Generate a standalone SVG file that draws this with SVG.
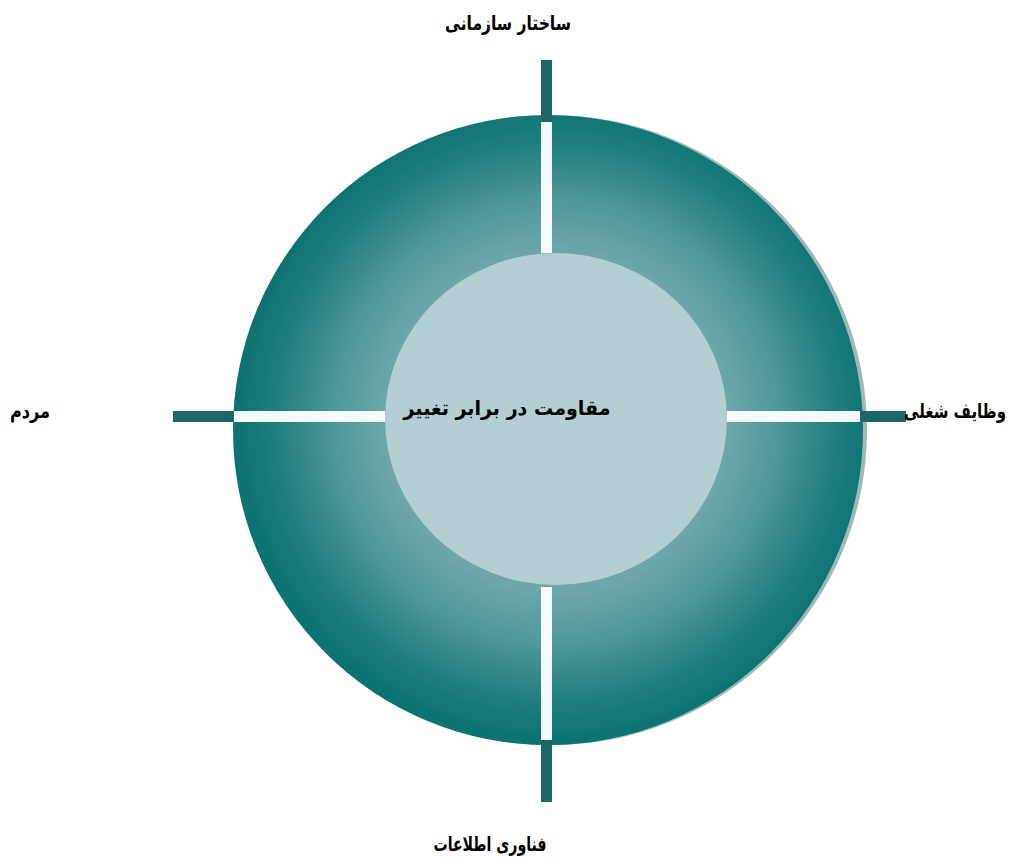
<svg xmlns="http://www.w3.org/2000/svg" width="1015" height="858" viewBox="0 0 1015 858">
<style>
.lbl{font-family:"DejaVu Sans","Noto Sans",sans-serif;font-weight:bold;font-size:20px;fill:#000;text-anchor:middle;direction:rtl}
.dark{fill:#1d6866}
.white{fill:#f4fbfd}
</style>
<defs>
<radialGradient id="ring" cx="556" cy="422" r="318" gradientUnits="userSpaceOnUse">
<stop offset="0.52" stop-color="#6fa8ab"/>
<stop offset="0.7" stop-color="#4f9799"/>
<stop offset="0.88" stop-color="#1f7e7c"/>
<stop offset="1" stop-color="#0c7371"/>
</radialGradient>
</defs>
<rect width="1015" height="858" fill="#fff"/>
<g id="ring-node">
<circle cx="552" cy="430" r="315" fill="#9fb9bb"/>
<circle cx="548" cy="430" r="315" fill="url(#ring)"/>
</g>
<g id="center-node">
<ellipse cx="556" cy="419" rx="171" ry="166" fill="#b3cfd2"/>
<text class="lbl" x="507" y="415" font-size="21" textLength="207" lengthAdjust="spacingAndGlyphs">مقاومت در برابر تغییر</text>
</g>
<g id="connectors">
<rect class="dark" x="541" y="60" width="11" height="62"/>
<rect class="white" x="541" y="122" width="11" height="131"/>
<rect class="white" x="541" y="587" width="11" height="154"/>
<rect class="dark" x="541" y="740" width="11" height="62"/>
<rect class="dark" x="173" y="411" width="61" height="11"/>
<rect class="white" x="234" y="411" width="151" height="11"/>
<rect class="white" x="727" y="411" width="134" height="11"/>
<rect class="dark" x="860" y="411" width="46" height="11"/>
</g>
<g id="top-label"><text class="lbl" x="508" y="30" textLength="126" lengthAdjust="spacingAndGlyphs">ساختار سازمانی</text></g>
<g id="left-label"><text class="lbl" x="30" y="418" textLength="40" lengthAdjust="spacingAndGlyphs">مردم</text></g>
<g id="right-label"><text class="lbl" x="955" y="418" font-size="18" textLength="102" lengthAdjust="spacingAndGlyphs">وظایف شغلی</text></g>
<g id="bottom-label"><text class="lbl" x="490" y="851" textLength="113" lengthAdjust="spacingAndGlyphs">فناوری اطلاعات</text></g>
</svg>
